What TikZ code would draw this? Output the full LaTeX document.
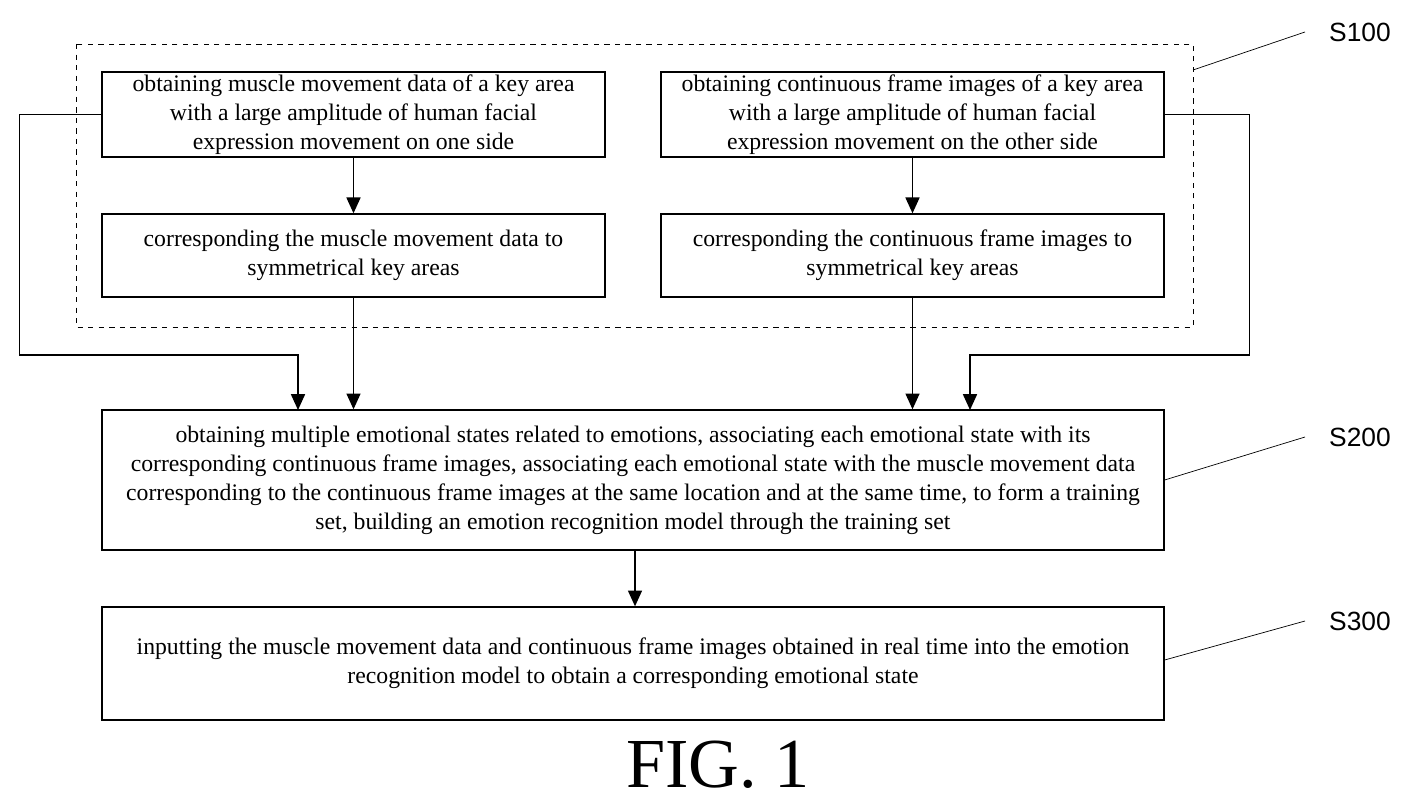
\documentclass[tikz,border=0pt]{standalone}
\usepackage{fontspec}
\setmainfont{Liberation Serif}
\newfontfamily\labfont{Liberation Sans}
\usetikzlibrary{positioning,arrows.meta,calc}

\tikzset{
	stepbox/.style={draw, thick, align=center, inner sep=0pt,
		font=\fontsize{13.5}{16.5}\selectfont},
	flow/.style={draw, thick, -{Triangle[length=9pt,width=8pt]}},
	tag/.style={font=\labfont\fontsize{15}{18}\selectfont},
}

\begin{document}
\begin{tikzpicture}[x=0.02cm,y=-0.02cm]
	\useasboundingbox (0,0) rectangle (1412,804);
	% first stage
	\node[stepbox, minimum width=10.06cm, minimum height=1.7cm] (mA) at (353.5,114.5)
		{obtaining muscle movement data of a key area\\with a large amplitude of human facial\\expression movement on one side};
	\node[stepbox, minimum width=10.06cm, minimum height=1.7cm] (fA) at (912.5,114.5)
		{obtaining continuous frame images of a key area\\with a large amplitude of human facial\\expression movement on the other side};
	\node[stepbox, minimum width=10.06cm, minimum height=1.66cm] (mB) at (353.5,255.5)
		{corresponding the muscle movement data to\\symmetrical key areas};
	\node[stepbox, minimum width=10.06cm, minimum height=1.66cm] (fB) at (912.5,255.5)
		{corresponding the continuous frame images to\\symmetrical key areas};
	\draw[dashed] (76,44) rectangle (1193,327);
	% second and third stage
	\node[stepbox, minimum width=21.24cm, minimum height=2.8cm] (train) at (633,480)
		{obtaining multiple emotional states related to emotions, associating each emotional state with its\\corresponding continuous frame images, associating each emotional state with the muscle movement data\\corresponding to the continuous frame images at the same location and at the same time, to form a training\\set, building an emotion recognition model through the training set};
	\node[stepbox, minimum width=21.24cm, minimum height=2.26cm] (infer) at (633,663.5)
		{inputting the muscle movement data and continuous frame images obtained in real time into the emotion\\recognition model to obtain a corresponding emotional state};
	% connectors
	\draw[flow] (mA) -- (mB);
	\draw[flow] (fA) -- (fB);
	\draw[flow] (mB) -- (mB |- train.north);
	\draw[flow] (fB) -- (fB |- train.north);
	\draw[flow] (mA.west) -- ++(-82,0) |- (298,355) -- (298,410);
	\draw[flow] (fA.east) -- ++(85,0) |- (970,355) -- (970,410);
	\draw[flow] (train.south -| 635,0) -- (infer.north -| 635,0);
	% step labels
	\node[tag] (s1) at (1360,32) {S100};
	\node[tag] (s2) at (1360,437) {S200};
	\node[tag] (s3) at (1360,621) {S300};
	\draw (1193,70) -- (1305,32);
	\draw (train.east |- 0,480) -- (1305,437);
	\draw (infer.east |- 0,660) -- (1305,621);
	\node[font=\fontsize{40}{44}\selectfont] (fig) at (718,765) {FIG. 1};
\end{tikzpicture}
\end{document}
